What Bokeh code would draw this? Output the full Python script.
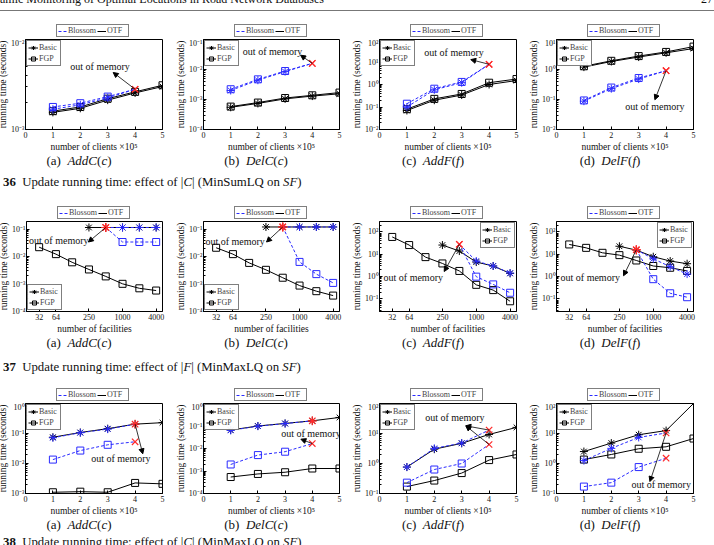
from bokeh.plotting import figure
from bokeh.models import (Legend, LegendItem, FixedTicker, CustomJSTickFormatter,
                          Range1d, Label, Arrow, NormalHead, Div, ColumnDataSource)
from bokeh.layouts import column, row
from bokeh.embed import file_html
from bokeh.resources import INLINE

# ---------------- data ----------------
clients = [1, 2, 3, 4, 5]
clients_blossom = [1, 2, 3, 4]
facilities = [32, 64, 125, 250, 500, 1000, 2000, 4000]
facilities_basic = [250, 500, 1000, 2000, 4000]
facilities_blossom = [500, 1000, 2000, 4000]
client_ticks = [0, 1, 2, 3, 4, 5]
facility_ticks = [32, 64, 250, 1000, 4000]

# Fig. 36: effect of |C| (MinSumLQ on SF)
f36a_otf_basic = [1.55e-3, 1.72e-3, 2.12e-3, 2.55e-3, 3.0e-3]
f36a_otf_fgp = [1.6e-3, 1.78e-3, 2.2e-3, 2.62e-3, 3.1e-3]
f36a_blossom_basic = [1.68e-3, 1.88e-3, 2.25e-3, 2.8e-3]
f36a_blossom_fgp = [1.78e-3, 1.96e-3, 2.32e-3, 2.8e-3]

f36b_otf_basic = [5.5e-4, 7.4e-4, 1.05e-3, 1.3e-3, 1.55e-3]
f36b_otf_fgp = [5.8e-4, 7.9e-4, 1.12e-3, 1.38e-3, 1.7e-3]
f36b_blossom_basic = [2.0e-3, 4.4e-3, 8.5e-3, 1.6e-2]
f36b_blossom_fgp = [2.2e-3, 4.7e-3, 8.9e-3, 1.6e-2]

f36c_otf_basic = [0.07, 0.2, 0.34, 1.0, 1.5]
f36c_otf_fgp = [0.08, 0.23, 0.38, 1.2, 1.75]
f36c_blossom_basic = [0.1, 0.58, 1.2, 7.9]
f36c_blossom_fgp = [0.14, 0.65, 1.3, 7.9]

f36d_otf_basic = [1.2, 1.85, 2.6, 3.6, 5.0]
f36d_otf_fgp = [1.28, 1.95, 2.8, 3.85, 5.8]
f36d_blossom_basic = [0.088, 0.23, 0.48, 0.91]
f36d_blossom_fgp = [0.093, 0.25, 0.52, 0.91]

# Fig. 37: effect of |F| (MinMaxLQ on SF)
f37a_otf_basic = [0.115, 0.115, 0.115, 0.115, 0.115]
f37a_otf_fgp = [0.022, 0.0123, 6.2e-3, 3.4e-3, 1.9e-3, 1.02e-3, 7.0e-4, 5.8e-4]
f37a_blossom_basic = [0.115, 0.115, 0.115, 0.115]
f37a_blossom_fgp = [0.115, 0.034, 0.034, 0.034]

f37b_otf_basic = [0.12, 0.12, 0.12, 0.12, 0.12]
f37b_otf_fgp = [0.021, 0.0123, 5.9e-3, 3.3e-3, 1.7e-3, 8.8e-4, 5.5e-4, 3.8e-4]
f37b_blossom_basic = [0.12, 0.12, 0.12, 0.12]
f37b_blossom_fgp = [0.12, 6.4e-3, 2.3e-3, 1.1e-3]

f37c_otf_basic = [26, 14, 4.5, 3.0, 1.4]
f37c_otf_fgp = [60, 26, 7.5, 3.9, 1.8, 0.43, 0.25, 0.079]
f37c_blossom_basic = [28, 5.0, 3.0, 1.45]
f37c_blossom_fgp = [28, 1.0, 0.45, 0.19]

f37d_otf_basic = [23, 15.4, 7.8, 5.0, 3.8]
f37d_otf_fgp = [27.7, 19.5, 11.7, 9.2, 5.3, 3.0, 2.5, 1.8]
f37d_blossom_basic = [16, 6.3, 2.8, 1.3]
f37d_blossom_fgp = [16, 0.77, 0.18, 0.12]

# Fig. 38: effect of |C| (MinMaxLQ on SF)
f38a_otf_basic = [0.075, 0.108, 0.145, 0.205, 0.23]
f38a_otf_fgp = [1.1e-3, 1.15e-3, 1.1e-3, 2.25e-3, 2.1e-3]
f38a_blossom_basic = [0.072, 0.106, 0.14, 0.205]
f38a_blossom_fgp = [0.0135, 0.027, 0.042, 0.053]

f38b_otf_basic = [0.066, 0.10, 0.13, 0.17, 0.24]
f38b_otf_fgp = [5.4e-4, 7.4e-4, 8.8e-4, 1.29e-3, 1.29e-3]
f38b_blossom_basic = [0.064, 0.098, 0.128, 0.17]
f38b_blossom_fgp = [1.95e-3, 5.1e-3, 7.2e-3, 0.0165]

f38c_otf_basic = [0.76, 3.0, 4.7, 9.3, 16]
f38c_otf_fgp = [0.17, 0.27, 0.48, 1.3, 2.0]
f38c_blossom_basic = [0.76, 3.2, 4.8, 13]
f38c_blossom_fgp = [0.23, 0.63, 1.0, 4.3]

f38d_otf_basic = [2.5, 4.8, 9.1, 12.5, 100]
f38d_otf_fgp = [1.35, 2.0, 3.1, 3.6, 6.8]
f38d_blossom_basic = [1.25, 3.2, 7.4, 10.4]
f38d_blossom_fgp = [0.17, 0.23, 0.76, 1.5]

captions_36 = ["(a)&nbsp; <i>AddC</i>(<i>c</i>)", "(b)&nbsp; <i>DelC</i>(<i>c</i>)",
               "(c)&nbsp; <i>AddF</i>(<i>f</i>)", "(d)&nbsp; <i>DelF</i>(<i>f</i>)"]

# ---------------- style ----------------
SERIF = "Liberation Serif"
BLUE = "#2a2aff"
BLACK = "#000000"
RED = "#ff2a2a"
OOM = "out of memory"
BORDER_L, BORDER_R = 29, 10


def sup_formatter():
    return CustomJSTickFormatter(code="""
const e = Math.round(Math.log10(tick));
const m = {'-':'\u207b','0':'\u2070','1':'\u00b9','2':'\u00b2','3':'\u00b3','4':'\u2074','5':'\u2075','6':'\u2076','7':'\u2077','8':'\u2078','9':'\u2079'};
return '10' + String(e).split('').map(c => m[c]).join('');
""")


def draw_series(p, xs, ys, color, dash, marker, size, oom_idx=None, oom_marker=None):
    p.line(xs, ys, line_color=color, line_width=1, line_dash=dash)
    n = len(xs)
    keep = [i for i in range(n) if oom_idx is None or i != oom_idx % n]
    p.scatter([xs[i] for i in keep], [ys[i] for i in keep], marker=marker, size=size,
              line_color=color, fill_color=None, line_width=1)
    if oom_idx is not None:
        p.scatter([xs[oom_idx]], [ys[oom_idx]], marker=oom_marker, size=9,
                  line_color=RED, fill_color=None, line_width=1.2)


def legend_strip():
    """Small figure above each panel holding the 'Blossom / OTF' legend."""
    q = figure(width=177, height=14, toolbar_location=None, output_backend="svg",
               x_range=Range1d(0, 1), y_range=Range1d(0, 1),
               x_axis_location=None, y_axis_location=None,
               min_border_left=BORDER_L, min_border_right=BORDER_R,
               min_border_top=0, min_border_bottom=0)
    q.grid.visible = False
    q.outline_line_color = None
    q.background_fill_color = "white"
    q.border_fill_color = "white"
    off = ColumnDataSource(dict(x=[5, 6], y=[5, 5]))
    r_bl = q.line("x", "y", source=off, line_color=BLUE, line_dash="3 2", line_width=1)
    r_otf = q.line("x", "y", source=off, line_color=BLACK, line_width=1)
    q.add_layout(Legend(items=[LegendItem(label="Blossom", renderers=[r_bl]),
                               LegendItem(label="OTF", renderers=[r_otf])],
                        orientation="horizontal", location=(31, 1),
                        label_text_font=SERIF, label_text_font_size="8px",
                        glyph_width=9, glyph_height=8, label_height=8, label_standoff=1,
                        spacing=1, padding=1, margin=0,
                        border_line_color="black", border_line_width=1))
    return q


def panel(spec):
    clients_axis = spec["kind"] == "clients"
    kw = dict(width=177, frame_height=90, toolbar_location=None, output_backend="svg",
              y_axis_type="log", y_range=Range1d(*spec["yr"]),
              min_border_left=BORDER_L, min_border_right=BORDER_R,
              min_border_top=1, min_border_bottom=26)
    if clients_axis:
        p = figure(x_range=Range1d(0, 5), **kw)
    else:
        p = figure(x_axis_type="log", x_range=Range1d(19, 5200), **kw)
    p.grid.visible = False
    p.outline_line_color = "black"
    p.outline_line_width = 1
    p.background_fill_color = "white"
    p.border_fill_color = "white"

    lo, hi = spec["exp"]
    major = [10.0 ** k for k in range(lo, hi + 1)]
    minor = [m * 10.0 ** k for k in range(lo - 1, hi + 1) for m in range(2, 10)]
    p.yaxis.ticker = FixedTicker(ticks=major, minor_ticks=minor)
    p.yaxis.formatter = sup_formatter()
    if clients_axis:
        p.xaxis.ticker = FixedTicker(ticks=client_ticks)
        p.xaxis.axis_label = "number of clients \u00d710\u2075"
    else:
        p.xaxis.ticker = FixedTicker(ticks=facility_ticks)
        p.xaxis.formatter = CustomJSTickFormatter(code="return String(Math.round(tick));")
        p.xaxis.axis_label = "number of facilities"
    p.yaxis.axis_label = "running time (seconds)"
    for ax in (p.xaxis, p.yaxis):
        ax.axis_line_color = "black"
        ax.major_tick_in = 3
        ax.major_tick_out = 0
        ax.minor_tick_in = 2
        ax.minor_tick_out = 0
        ax.major_tick_line_color = "black"
        ax.minor_tick_line_color = "black"
        ax.major_label_text_font = SERIF
        ax.major_label_text_font_size = "8px"
        ax.major_label_text_color = "#111111"
        ax.major_label_standoff = 2
        ax.axis_label_text_font = SERIF
        ax.axis_label_text_font_size = "9.5px"
        ax.axis_label_text_font_style = "normal"
        ax.axis_label_text_color = "#111111"
        ax.axis_label_standoff = 1
    p.yaxis.major_label_standoff = 1
    p.yaxis.axis_label_standoff = 0

    # OTF (black, solid)
    draw_series(p, spec["x_otf_basic"], spec["otf_basic"], BLACK, "solid", "asterisk", 8)
    draw_series(p, spec["x_otf_fgp"], spec["otf_fgp"], BLACK, "solid", "square", 7)
    # Blossom (blue, dashed)
    draw_series(p, spec["x_blossom"], spec["blossom_fgp"], BLUE, "3 2", "square", 7,
                spec["oom_idx"], spec["oom_fgp"])
    draw_series(p, spec["x_blossom"], spec["blossom_basic"], BLUE, "3 2", "asterisk", 8,
                spec["oom_idx"], spec["oom_basic"])

    # annotations
    lx, ly = spec["label"]
    p.add_layout(Label(x=lx, y=ly, text=OOM, text_font=SERIF, text_font_size="10px",
                       text_align="center", text_baseline="middle", text_color="#111111"))
    for (xs, ys), (xe, ye) in spec["arrows"]:
        p.add_layout(Arrow(end=NormalHead(size=5, fill_color="black", line_color="black"),
                           x_start=xs, y_start=ys, x_end=xe, y_end=ye,
                           line_color="black", line_width=0.8))

    # legend-only renderers: their points lie far outside the visible ranges
    off = ColumnDataSource(dict(x=[1, 2], y=[1e-12, 1e-12]))
    l1 = p.line("x", "y", source=off, line_color=BLACK, line_width=1)
    m1 = p.scatter("x", "y", source=off, marker="asterisk", size=8, line_color=BLACK, fill_color=None)
    l2 = p.line("x", "y", source=off, line_color=BLACK, line_width=1)
    m2 = p.scatter("x", "y", source=off, marker="square", size=7, line_color=BLACK, fill_color=None)
    inner = Legend(items=[LegendItem(label="Basic", renderers=[l1, m1]),
                          LegendItem(label="FGP", renderers=[l2, m2])],
                   location=spec["legloc"],
                   label_text_font=SERIF, label_text_font_size="8px",
                   glyph_width=10, glyph_height=11, label_height=9, label_standoff=1,
                   spacing=-2, padding=1, margin=1,
                   border_line_color="black", border_line_width=1)
    p.add_layout(inner)
    return column(legend_strip(), p, spacing=0)


def spec_clients(yr, exp, ob, of, bb, bf, oom_basic, legloc, label, arrows):
    return dict(kind="clients", yr=yr, exp=exp, x_otf_basic=clients, x_otf_fgp=clients,
                x_blossom=clients_blossom, otf_basic=ob, otf_fgp=of, blossom_basic=bb,
                blossom_fgp=bf, oom_idx=-1, oom_basic=oom_basic, oom_fgp="x",
                legloc=legloc, label=label, arrows=arrows)


def spec_fac(yr, exp, ob, of, bb, bf, oom_marker, legloc, label, arrows):
    return dict(kind="facilities", yr=yr, exp=exp, x_otf_basic=facilities_basic,
                x_otf_fgp=facilities, x_blossom=facilities_blossom, otf_basic=ob,
                otf_fgp=of, blossom_basic=bb, blossom_fgp=bf, oom_idx=0,
                oom_basic=oom_marker, oom_fgp=oom_marker,
                legloc=legloc, label=label, arrows=arrows)


row36 = [
    spec_clients((1e-3, 1e-2), (-3, -2), f36a_otf_basic, f36a_otf_fgp, f36a_blossom_basic, f36a_blossom_fgp,
                 "x", "top_left", (2.72, 5.0e-3), [((4, 2.8e-3), (3.2, 4.3e-3))]),
    spec_clients((1e-4, 1e-1), (-4, -1), f36b_otf_basic, f36b_otf_fgp, f36b_blossom_basic, f36b_blossom_fgp,
                 "x", "top_left", (2.54, 0.04), [((4, 0.016), (3.57, 0.03))]),
    spec_clients((1e-2, 1e2), (-2, 2), f36c_otf_basic, f36c_otf_fgp, f36c_blossom_basic, f36c_blossom_fgp,
                 "x", "top_left", (2.72, 27), [((4, 7.9), (3.33, 12.8))]),
    spec_clients((1e-2, 1e1), (-2, 1), f36d_otf_basic, f36d_otf_fgp, f36d_blossom_basic, f36d_blossom_fgp,
                 "x", "top_left", (3.59, 0.057), [((4, 0.91), (3.59, 0.098))]),
]
row37 = [
    spec_fac((1e-4, 0.19), (-4, -1), f37a_otf_basic, f37a_otf_fgp, f37a_blossom_basic, f37a_blossom_fgp,
             "asterisk", "bottom_left", (72, 0.039), [((500, 0.115), (244, 0.034))]),
    spec_fac((1e-4, 0.19), (-4, -1), f37b_otf_basic, f37b_otf_fgp, f37b_blossom_basic, f37b_blossom_fgp,
             "asterisk", "bottom_left", (70, 0.037), [((500, 0.12), (256, 0.034))]),
    spec_fac((0.0275, 295), (-1, 2), f37c_otf_basic, f37c_otf_fgp, f37c_blossom_basic, f37c_blossom_fgp,
             "x", "top_right", (75.7, 0.95), [((500, 28), (269, 1.7))]),
    spec_fac((0.0275, 295), (-1, 2), f37d_otf_basic, f37d_otf_fgp, f37d_blossom_basic, f37d_blossom_fgp,
             "asterisk", "top_right", (75.7, 0.95), [((500, 16), (296, 1.1))]),
]
row38 = [
    spec_clients((1e-3, 1), (-3, 0), f38a_otf_basic, f38a_otf_fgp, f38a_blossom_basic, f38a_blossom_fgp,
                 "asterisk", "top_left", (3.48, 0.015), [((4, 0.205), (4.28, 0.021))]),
    spec_clients((1e-4, 1), (-4, 0), f38b_otf_basic, f38b_otf_fgp, f38b_blossom_basic, f38b_blossom_fgp,
                 "asterisk", "top_left", (3.95, 0.048), [((4, 0.0165), (3.58, 0.026))]),
    spec_clients((0.1, 100), (-1, 2), f38c_otf_basic, f38c_otf_fgp, f38c_blossom_basic, f38c_blossom_fgp,
                 "x", "top_left", (2.75, 35), [((4, 4.3), (3.15, 18)), ((4, 13), (3.15, 18))]),
    spec_clients((0.1, 100), (-1, 2), f38d_otf_basic, f38d_otf_fgp, f38d_blossom_basic, f38d_blossom_fgp,
                 "x", "top_left", (3.82, 0.195), [((4, 10.4), (3.41, 0.25))]),
]

FONT_CSS = "font-family:'Liberation Serif','Times New Roman',serif;color:#111;"


def caption_div():
    cells = "".join(
        f'<div style="box-sizing:border-box;flex:none;width:177px;padding-right:19px;text-align:center;white-space:nowrap;">{t}</div>'
        for t in captions_36)
    return Div(text=(f'<div style="width:714px;height:13px;overflow:visible;">'
                     f'<div style="display:flex;position:relative;top:-2px;width:714px;{FONT_CSS}font-size:13px;line-height:14px;">{cells}</div></div>'),
               width=714, height=13, margin=0)


def title_div(html, height, pad):
    return Div(text=f'<div style="width:714px;height:{height}px;overflow:hidden;{FONT_CSS}font-size:12.8px;line-height:16px;">'
                    f'<div style="padding-top:{pad}px;padding-left:3px;white-space:nowrap;">{html}</div></div>',
               width=714, height=height, margin=0)


header = Div(text=(f'<div style="position:relative;width:714px;height:24px;overflow:hidden;{FONT_CSS}font-size:12px;">'
                   '<div style="position:absolute;left:0;top:-9px;white-space:nowrap;">amic Monitoring of Optimal Locations in Road Network Databases</div>'
                   '<div style="position:absolute;right:1px;top:-9px;">27</div>'
                   '<div style="position:absolute;left:0;top:10px;width:714px;border-top:1px solid #777;"></div></div>'),
             width=714, height=24, margin=0)

layout = column(
    header,
    row(*[panel(s) for s in row36], spacing=0, margin=(0, 0, 0, -5)),
    caption_div(),
    title_div("<b>36</b>&nbsp; Update running time: effect of |<i>C</i>| (MinSumLQ on <i>SF</i>)", 38, 6),
    row(*[panel(s) for s in row37], spacing=0, margin=(0, 0, 0, -5)),
    caption_div(),
    title_div("<b>37</b>&nbsp; Update running time: effect of |<i>F</i>| (MinMaxLQ on <i>SF</i>)", 38, 9),
    row(*[panel(s) for s in row38], spacing=0, margin=(0, 0, 0, -5)),
    caption_div(),
    title_div("<b>38</b>&nbsp; Update running time: effect of |<i>C</i>| (MinMaxLQ on <i>SF</i>)", 13, 2),
    spacing=0,
)

open("out.html", "w").write(file_html(layout, INLINE))
